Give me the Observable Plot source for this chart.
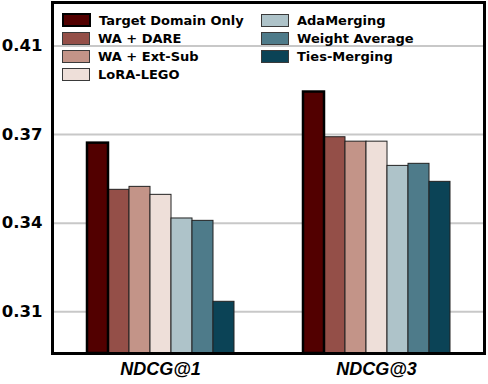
<!DOCTYPE html>
<html>
<head>
<meta charset="utf-8">
<script src="https://cdn.jsdelivr.net/npm/d3@7"></script>
<script src="https://cdn.jsdelivr.net/npm/@observablehq/plot@0.6"></script>
<style>
  html, body { margin: 0; padding: 0; background: #fff; }
  #wrap { position: relative; width: 488px; height: 384px; font-family: "DejaVu Sans", sans-serif; }
  #legend {
    position: absolute; left: 62px; top: 11px;
    display: grid; grid-auto-flow: column;
    grid-template-rows: repeat(4, 18px);
    grid-template-columns: 199px auto;
    font-family: "DejaVu Sans", sans-serif; font-weight: bold; font-size: 13px; color: #000;
  }
  .item { display: flex; align-items: center; height: 18px; }
  .sw { width: 26px; height: 11px; border: 1.5px solid #3a3a3a; margin-right: 8px; }
</style>
</head>
<body>
<div id="wrap"></div>
<script>
const metrics = ["NDCG@1", "NDCG@3"];
const methods = ["Target Domain Only", "WA + DARE", "WA + Ext-Sub", "LoRA-LEGO", "AdaMerging", "Weight Average", "Ties-Merging"];
const ndcg1 = [0.3671, 0.3513, 0.3523, 0.3496, 0.3416, 0.3408, 0.3134];
const ndcg3 = [0.3844, 0.3691, 0.3676, 0.3676, 0.3594, 0.3601, 0.3540];
const colors = ["#520000", "#944f48", "#c39488", "#eedfd9", "#aec3c9", "#4e7b8a", "#0b4356"];
const yTicks = [0.31, 0.34, 0.37, 0.40];
const yTickLabels = ["0.31", "0.34", "0.37", "0.41"];
const yDomain = [0.2959, 0.4147];

const series = [ndcg1, ndcg3];
const data = metrics.flatMap((m, i) => methods.map((k, j) => ({metric: m, method: k, value: series[i][j]})));
const target = data.filter(d => d.method === methods[0]);
const others = data.filter(d => d.method !== methods[0]);

const plot = Plot.plot({
  width: 488,
  height: 384,
  marginLeft: 51,
  marginRight: 4,
  marginTop: 2,
  marginBottom: 31,
  style: {fontFamily: "DejaVu Sans, sans-serif", color: "#000", background: "#fff"},
  fx: {domain: metrics, padding: 0, label: null},
  x: {domain: methods, paddingInner: 0, paddingOuter: 1.46, axis: null},
  y: {domain: yDomain, label: null},
  color: {domain: methods, range: colors},
  marks: [
    Plot.gridY(yTicks, {stroke: "#c8c8c8", strokeOpacity: 1, strokeWidth: 2}),
    Plot.barY(others, {fx: "metric", x: "method", y1: yDomain[0], y2: "value", fill: "method", stroke: "#222", strokeWidth: 1}),
    Plot.barY(target, {fx: "metric", x: "method", y1: yDomain[0], y2: "value", fill: "method", stroke: "#000", strokeWidth: 2.5}),
    Plot.axisY(yTicks, {anchor: "left", tickSize: 0, tickPadding: 10, tickFormat: d => yTickLabels[yTicks.indexOf(d)], fontSize: 16.5, fontWeight: "bold", fill: "#000"}),
    Plot.axisFx({anchor: "bottom", tickSize: 0, tickPadding: 9, fontSize: 18, fontWeight: "bold", fontStyle: "italic", fontFamily: "Liberation Sans Narrow, Liberation Sans, sans-serif", fill: "#000", label: null}),
    Plot.frame({anchor: "top", stroke: "#000", strokeWidth: 3, strokeLinecap: "square"}),
    Plot.frame({anchor: "bottom", stroke: "#000", strokeWidth: 3, strokeLinecap: "square"}),
    Plot.frame({anchor: "left", facetAnchor: "left", stroke: "#000", strokeWidth: 3, strokeLinecap: "square"}),
    Plot.frame({anchor: "right", facetAnchor: "right", stroke: "#000", strokeWidth: 3, strokeLinecap: "square"})
  ]
});

const wrap = document.getElementById("wrap");
wrap.appendChild(plot);

const legend = document.createElement("div");
legend.id = "legend";
methods.forEach((m, i) => {
  const item = document.createElement("div");
  item.className = "item";
  const sw = document.createElement("span");
  sw.className = "sw";
  sw.style.background = colors[i];
  if (i === 0) { sw.style.border = "2px solid #000"; sw.style.width = "25px"; sw.style.height = "10px"; }
  const label = document.createElement("span");
  label.textContent = m;
  item.appendChild(sw);
  item.appendChild(label);
  legend.appendChild(item);
});
wrap.appendChild(legend);
</script>
</body>
</html>
